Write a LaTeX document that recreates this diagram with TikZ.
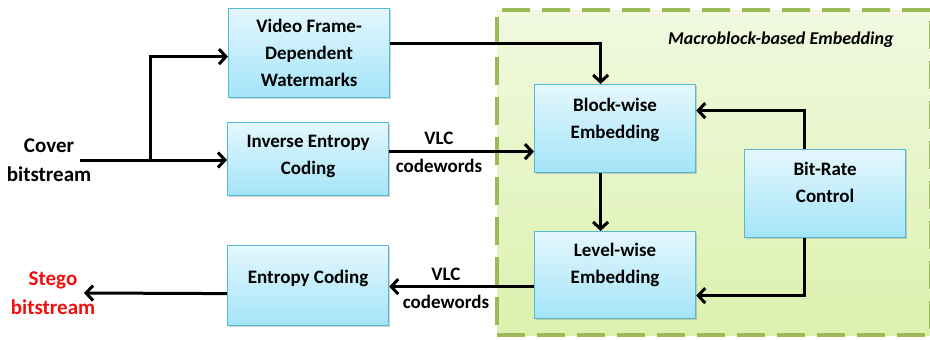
\documentclass[tikz,border=0pt]{standalone}
\usepackage{fontspec}
\setmainfont{Carlito}
\usetikzlibrary{arrows.meta,shadows,calc}
\definecolor{boxtop}{HTML}{E4F7FD}
\definecolor{boxbot}{HTML}{A3E4F8}
\definecolor{boxline}{HTML}{55B9D6}
\definecolor{grntop}{HTML}{F1F9E0}
\definecolor{grnbot}{HTML}{DCF1AE}
\definecolor{grnline}{HTML}{9BBB59}
\definecolor{stegored}{HTML}{F01010}
\tikzset{
  blockbox/.style={draw=boxline, line width=1.2pt, top color=boxtop, bottom color=boxbot,
    minimum width=161pt, inner sep=0pt,
    drop shadow={opacity=0.35, shadow xshift=1.5pt, shadow yshift=-1.5pt}},
  boxtext/.style={font=\bfseries\fontsize{19}{27}\selectfont, align=center, anchor=north},
  arr/.style={line width=3pt, -{Straight Barb[length=7pt,width=15pt,line width=3pt]}},
  lbl/.style={font=\bfseries\fontsize{19}{28}\selectfont, align=center},
  sidelbl/.style={font=\bfseries\fontsize{21}{29}\selectfont, align=center}
}
\begin{document}
\begin{tikzpicture}[x=1pt,y=1pt]
\useasboundingbox (0,0) rectangle (930,-340);
% green region
\node[draw=grnline, line width=4pt, dash pattern=on 28pt off 12pt, top color=grntop, bottom color=grnbot,
  minimum width=434pt, minimum height=325pt, inner sep=0pt, anchor=north west] (mb) at (495,-8) {};
\node[font=\bfseries\itshape\fontsize{18}{20}\selectfont, anchor=base east] (mbl) at (897,-44) {Macroblock-based Embedding};
% boxes
\node[blockbox, minimum height=89pt, anchor=north west] (vid) at (228,-8) {};
\node[boxtext] (vidt) at ([yshift=-8pt]vid.north) {Video Frame-\\Dependent\\Watermarks};
\node[blockbox, minimum height=73pt, anchor=north west] (inv) at (227,-122) {};
\node[boxtext] (invt) at ([yshift=-9.5pt]inv.north) {Inverse Entropy\\Coding};
\node[blockbox, minimum height=80pt, anchor=north west] (ent) at (227,-245) {};
\node[boxtext] (entt) at ([yshift=-21.5pt]ent.north) {Entropy Coding};
\node[blockbox, minimum height=88pt, anchor=north west] (blk) at (534,-84) {};
\node[boxtext] (blkt) at ([yshift=-10.5pt]blk.north) {Block-wise\\Embedding};
\node[blockbox, minimum height=87pt, anchor=north west] (lvl) at (534,-231) {};
\node[boxtext] (lvlt) at ([yshift=-8.5pt]lvl.north) {Level-wise\\Embedding};
\node[blockbox, minimum height=88pt, anchor=north west] (brc) at (744,-149) {};
\node[boxtext] (brct) at ([yshift=-9.5pt]brc.north) {Bit-Rate\\Control};
% outer labels
\node[sidelbl] (cov) at (49,-160) {Cover\\bitstream};
\node[sidelbl, text=stegored] (stg) at (53,-293) {Stego\\bitstream};
\coordinate (covs) at (80,-160);
\coordinate (split) at (150,-160);
\coordinate (stgend) at (84,-293);
% connectors
\draw[arr] (covs) -- (inv.west |- covs);
\draw[arr] (split) |- ([yshift=-3.5pt]vid.west);
\draw[arr] ([yshift=9.5pt]vid.east) -| ([xshift=-14.5pt]blk.north);
\draw[arr] ([yshift=7.5pt]inv.east) -- ([yshift=-23pt]blk.west);
\node[lbl] (vlc1) at (439,-152) {VLC\\codewords};
\draw[arr] ([xshift=-14.5pt]blk.south) -- ([xshift=-14.5pt]lvl.north);
\draw[arr] ([xshift=-20.5pt]brc.north) |- ([yshift=18pt]blk.east);
\draw[arr] ([xshift=-20.5pt]brc.south) |- ([yshift=-20.5pt]lvl.east);
\draw[arr] ([yshift=-11.5pt]lvl.west) -- ([yshift=-1pt]ent.east);
\node[lbl] (vlc2) at (446,-288) {VLC\\codewords};
\draw[arr] ([yshift=-8pt]ent.west) -- (stgend);
\end{tikzpicture}
\end{document}
